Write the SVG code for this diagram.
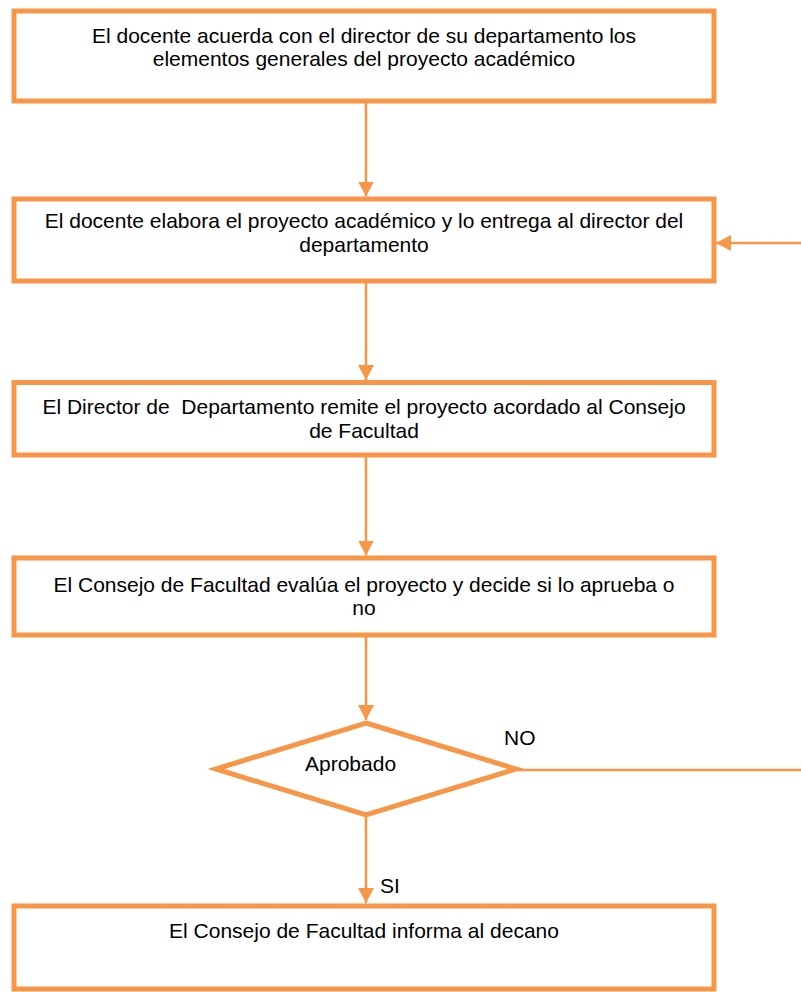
<svg xmlns="http://www.w3.org/2000/svg" width="801" height="992" viewBox="0 0 801 992">
<style>
.box{fill:#fff;stroke:#F79646;stroke-width:5}
.con{fill:none;stroke:#F79646;stroke-width:2.5}
.t{font-family:"Liberation Sans",Arial,sans-serif;font-size:21px;fill:#000;text-anchor:middle;white-space:pre}
.l{font-family:"Liberation Sans",Arial,sans-serif;font-size:21px;fill:#000}
</style>
<defs>
<marker id="ah" markerWidth="16" markerHeight="16" viewBox="0 0 16 16" refX="15" refY="8" orient="auto" markerUnits="userSpaceOnUse">
<path d="M0,0 L15,8 L0,16 Z" fill="#F79646"/>
</marker>
</defs>
<rect width="801" height="992" fill="#fff"/>
<g id="connectors">
<line class="con" x1="366" y1="103" x2="366" y2="196.5" marker-end="url(#ah)"/>
<line class="con" x1="366" y1="283" x2="366" y2="380" marker-end="url(#ah)"/>
<line class="con" x1="366" y1="457" x2="366" y2="555.5" marker-end="url(#ah)"/>
<line class="con" x1="366" y1="637" x2="366" y2="720" marker-end="url(#ah)"/>
<line class="con" x1="366" y1="817" x2="366" y2="903" marker-end="url(#ah)"/>
<line class="con" x1="801" y1="243" x2="716" y2="243" marker-end="url(#ah)"/>
<line class="con" x1="518" y1="770" x2="801" y2="770"/>
<text class="l" x="504" y="745">NO</text>
<text class="l" x="380" y="893">SI</text>
</g>
<g id="n1">
<rect class="box" x="14" y="11" width="700" height="90"/>
<text class="t" x="364" y="43">El docente acuerda con el director de su departamento los</text>
<text class="t" x="364" y="66">elementos generales del proyecto académico</text>
</g>
<g id="n2">
<rect class="box" x="14" y="199" width="700" height="82"/>
<text class="t" x="364" y="228">El docente elabora el proyecto académico y lo entrega al director del</text>
<text class="t" x="364" y="252">departamento</text>
</g>
<g id="n3">
<rect class="box" x="14" y="382.5" width="700" height="72.5"/>
<text class="t" x="364" y="414">El Director de  Departamento remite el proyecto acordado al Consejo</text>
<text class="t" x="364" y="438">de Facultad</text>
</g>
<g id="n4">
<rect class="box" x="14" y="558" width="700" height="77"/>
<text class="t" x="364" y="592">El Consejo de Facultad evalúa el proyecto y decide si lo aprueba o</text>
<text class="t" x="364" y="615">no</text>
</g>
<g id="n5">
<polygon class="box" points="366,723 516,769 366,815 216,769"/>
<text class="l" x="305" y="771">Aprobado</text>
</g>
<g id="n6">
<rect class="box" x="14" y="906" width="700" height="83"/>
<text class="t" x="364" y="938">El Consejo de Facultad informa al decano</text>
</g>
</svg>
